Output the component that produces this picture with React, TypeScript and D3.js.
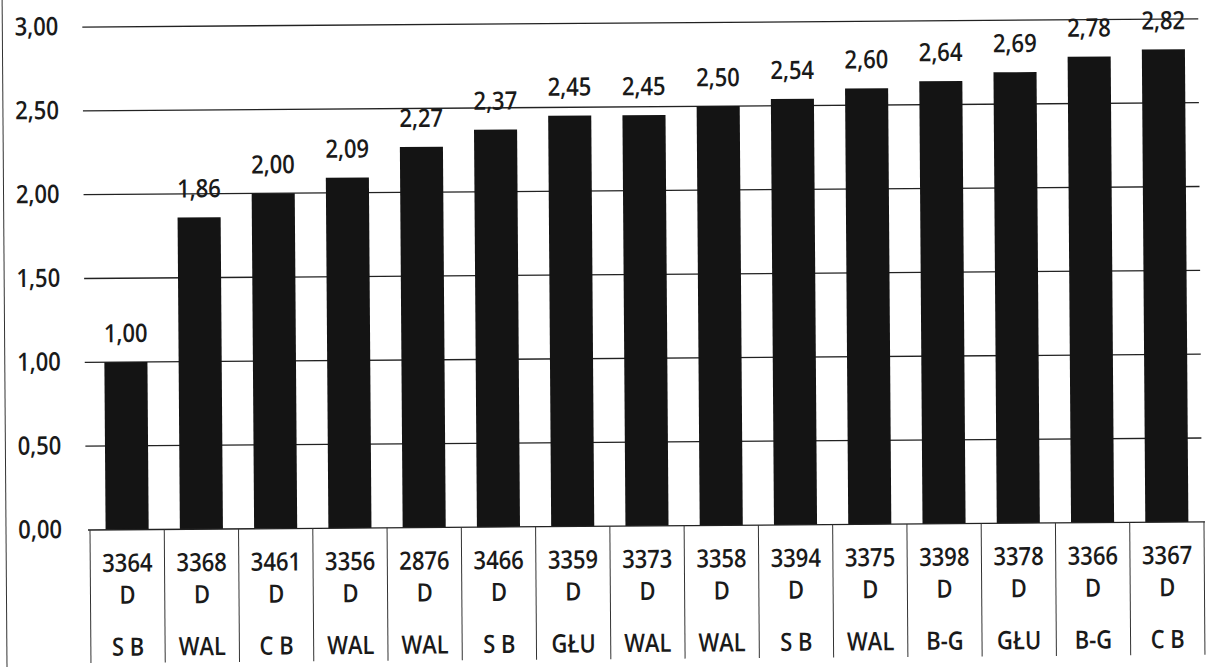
import React from "react";
import * as d3 from "d3";

const codes = ["3364", "3368", "3461", "3356", "2876", "3466", "3359", "3373", "3358", "3394", "3375", "3398", "3378", "3366", "3367"];
const suffixes = ["D", "D", "D", "D", "D", "D", "D", "D", "D", "D", "D", "D", "D", "D", "D"];
const regions = ["S B", "WAL", "C B", "WAL", "WAL", "S B", "GŁU", "WAL", "WAL", "S B", "WAL", "B-G", "GŁU", "B-G", "C B"];
const values = [1.0, 1.86, 2.0, 2.09, 2.27, 2.37, 2.45, 2.45, 2.5, 2.54, 2.6, 2.64, 2.69, 2.78, 2.82];
const yTicks = [0, 0.5, 1, 1.5, 2, 2.5, 3];

const W = 1219;
const H = 667;
const FONT = "'Open Sans', 'Noto Sans', sans-serif";

const fmt = (v: number) => v.toFixed(2).replace(".", ",");

export default function App() {
  const ids = codes.map((c, i) => `${i}`);
  const x = d3.scaleBand<string>().domain(ids).range([90, 1204]).paddingInner(0.42).paddingOuter(0.21);
  const y = d3.scaleLinear().domain([0, 3]).range([530, 27]);
  const step = x.step();
  const left = 90;
  const y0 = y(0);

  const T = (tx: number, ty: number) => `translate(${tx},${ty}) scale(1,1.15)`;

  return (
    <svg width={W} height={H} style={{ position: "absolute", left: 0, top: 0, background: "#fff" }} fontFamily={FONT} fontWeight={600}>
      <rect x={0} y={0} width={W} height={H} fill="#fff" />
      <g transform={`rotate(-0.42, 88, 530)`}>
        {/* left border line */}
        <line x1={6} x2={6} y1={-10} y2={H + 10} stroke="#333" strokeWidth={1} />
        {/* gridlines */}
        {yTicks.filter((t) => t > 0).map((t) => (
          <line key={t} x1={86} x2={1202} y1={y(t)} y2={y(t)} stroke="#222" strokeWidth={1.3} />
        ))}
        {/* y labels */}
        {yTicks.map((t) => (
          <text key={t} transform={T(62, y(t) + 8)} textAnchor="end" fontSize={22} fill="#1a1a1a">
            {fmt(t)}
          </text>
        ))}
        {/* bars */}
        {values.map((v, i) => (
          <rect key={i} x={x(ids[i])!} y={y(v)} width={x.bandwidth()} height={y0 - y(v)} fill="#141414" />
        ))}
        {/* value labels */}
        {values.map((v, i) => (
          <text key={i} transform={T(x(ids[i])! + x.bandwidth() / 2, y(v) - 20)} textAnchor="middle" fontSize={22} fill="#1a1a1a">
            {fmt(v)}
          </text>
        ))}
        {/* table */}
        <line x1={88} x2={1205} y1={y0} y2={y0} stroke="#222" strokeWidth={1.3} />
        {d3.range(codes.length + 1).map((k) => (
          <line key={k} x1={left + k * step} x2={left + k * step} y1={y0} y2={663} stroke="#333" strokeWidth={1} />
        ))}
        {codes.map((c, i) => {
          const cx = x(ids[i])! + x.bandwidth() / 2;
          return (
            <g key={i} fill="#1a1a1a" fontSize={22} textAnchor="middle">
              <text transform={T(cx, 572)}>{c}</text>
              <text transform={T(cx, 604)}>{suffixes[i]}</text>
              <text transform={T(cx, 656)}>{regions[i]}</text>
            </g>
          );
        })}
      </g>
    </svg>
  );
}
